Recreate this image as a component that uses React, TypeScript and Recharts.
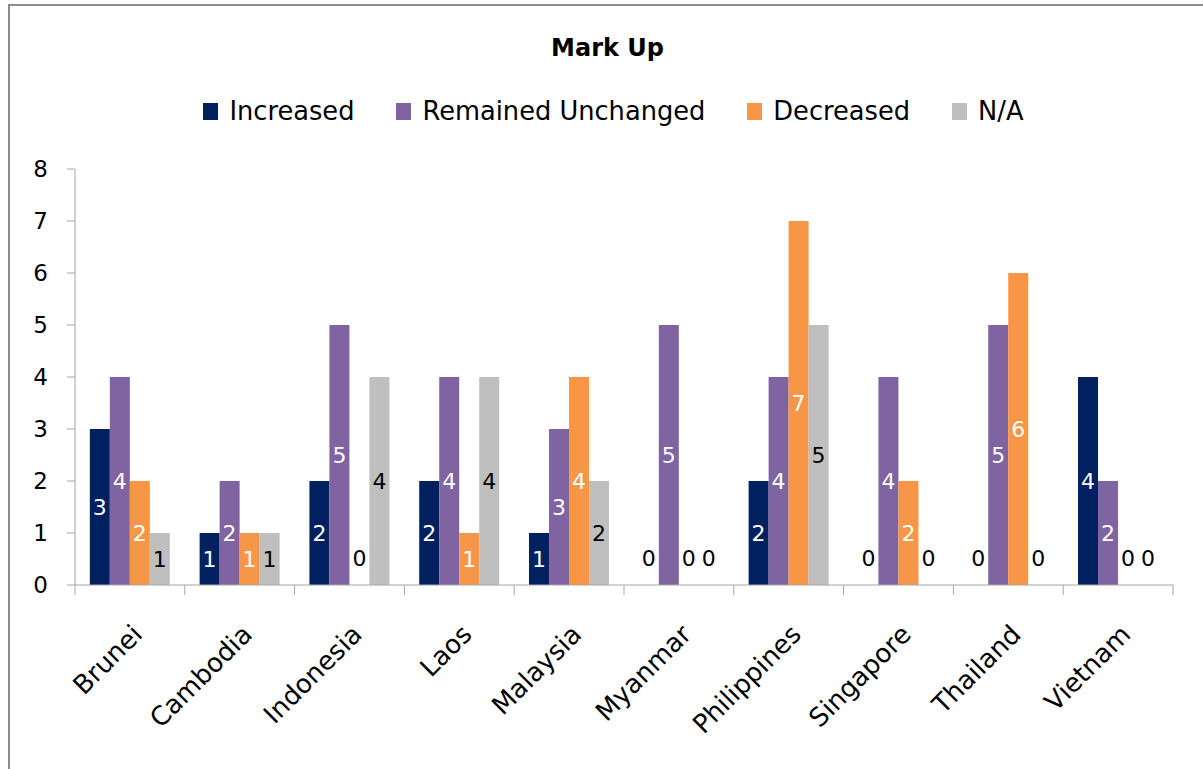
import React from 'react';
import { BarChart, Bar, XAxis, YAxis, Legend } from 'recharts';

const countries = ['Brunei', 'Cambodia', 'Indonesia', 'Laos', 'Malaysia', 'Myanmar', 'Philippines', 'Singapore', 'Thailand', 'Vietnam'];
const increased = [3, 1, 2, 2, 1, 0, 2, 0, 0, 4];
const remainedUnchanged = [4, 2, 5, 4, 3, 5, 4, 4, 5, 2];
const decreased = [2, 1, 0, 1, 4, 0, 7, 2, 6, 0];
const notAvailable = [1, 1, 4, 4, 2, 0, 5, 0, 0, 0];
const yTicks = [0, 1, 2, 3, 4, 5, 6, 7, 8];

const SERIES = [
  { key: 'increased', name: 'Increased', color: '#002060', labelColor: '#ffffff' },
  { key: 'remained', name: 'Remained Unchanged', color: '#8064A2', labelColor: '#ffffff' },
  { key: 'decreased', name: 'Decreased', color: '#F79646', labelColor: '#ffffff' },
  { key: 'na', name: 'N/A', color: '#BFBFBF', labelColor: '#000000' },
];

const data = countries.map((country, i) => ({
  country,
  increased: increased[i],
  remained: remainedUnchanged[i],
  decreased: decreased[i],
  na: notAvailable[i],
}));

const FONT = '"DejaVu Sans", sans-serif';
const AXIS_COLOR = '#A6A6A6';
const CHART_W = 1195;
const CHART_H = 763;
const MARGIN = { top: 163, right: 32, bottom: 0, left: 0 };
const Y_AXIS_W = 65;
const PLOT_W = CHART_W - MARGIN.left - MARGIN.right - Y_AXIS_W;
const BAND = PLOT_W / countries.length;

// x labels rotated 45deg, plus tick marks at the category boundaries (excel style)
const CountryTick = (props: any) => {
  const { x, y, payload, index } = props;
  const last = index === countries.length - 1;
  const ax = x + 14;
  const ay = y + 51;
  return (
    <g>
      <line x1={x - BAND / 2} x2={x - BAND / 2} y1={y} y2={y + 10} stroke={AXIS_COLOR} />
      {last && <line x1={x + BAND / 2} x2={x + BAND / 2} y1={y} y2={y + 10} stroke={AXIS_COLOR} />}
      <text
        x={ax}
        y={ay}
        transform={`rotate(-45, ${ax}, ${ay})`}
        textAnchor="end"
        fontFamily={FONT}
        fontSize={26}
        fill="#000"
      >
        {payload.value}
      </text>
    </g>
  );
};

// bar + its value label; zero values still get a "0" just above the axis
const makeShape = (dataKey: string, color: string, labelColor: string) => (props: any) => {
  const { x, y, width, height, payload } = props;
  const value = payload[dataKey];
  const bottom = y + height;
  const cx = x + width / 2;
  const cy = value === 0 ? bottom - 27 : y + height / 2;
  return (
    <g>
      {value > 0 && <rect x={x} y={y} width={width} height={height} fill={color} />}
      <text
        x={cx}
        y={cy}
        dy={8}
        textAnchor="middle"
        fontFamily={FONT}
        fontSize={22}
        fill={value === 0 ? '#000' : labelColor}
      >
        {value}
      </text>
    </g>
  );
};

const renderLegend = () => (
  <div
    style={{
      display: 'flex',
      justifyContent: 'center',
      paddingLeft: 12,
      fontFamily: FONT,
      fontSize: 25.7,
      lineHeight: '25px',
      color: '#000',
    }}
  >
    {SERIES.map((s, i) => (
      <div key={s.key} style={{ display: 'flex', alignItems: 'center', marginLeft: i === 0 ? 0 : 42 }}>
        <span style={{ display: 'inline-block', width: 15, height: 17, background: s.color, marginRight: 11 }} />
        <span>{s.name}</span>
      </div>
    ))}
  </div>
);

export default function App() {
  return (
    <div
      style={{
        position: 'absolute',
        left: 8,
        top: 4,
        width: 1220,
        height: 800,
        borderLeft: '2px solid #8C8C8C',
        borderTop: '2px solid #8C8C8C',
        background: '#fff',
      }}
    >
      <div
        style={{
          position: 'absolute',
          top: 30,
          left: 0,
          width: CHART_W,
          textAlign: 'center',
          fontFamily: FONT,
          fontWeight: 'bold',
          fontSize: 24,
          lineHeight: '24px',
          color: '#000',
        }}
      >
        Mark Up
      </div>
      <BarChart width={CHART_W} height={CHART_H} data={data} margin={MARGIN} barGap={0} barCategoryGap="13.5%">
        <XAxis
          dataKey="country"
          height={CHART_H - MARGIN.top - 416}
          axisLine={{ stroke: AXIS_COLOR }}
          tickLine={false}
          tickSize={0}
          tickMargin={0}
          interval={0}
          tick={<CountryTick />}
        />
        <YAxis
          width={Y_AXIS_W}
          domain={[0, 8]}
          ticks={yTicks}
          interval={0}
          axisLine={{ stroke: AXIS_COLOR }}
          tickLine={{ stroke: AXIS_COLOR }}
          tickSize={8}
          tickMargin={19}
          tick={{ fontFamily: FONT, fontSize: 23, fill: '#000' }}
        />
        <Legend
          content={renderLegend}
          layout="horizontal"
          verticalAlign="middle"
          align="center"
          wrapperStyle={{ top: 93, left: 0, width: CHART_W }}
        />
        {SERIES.map((s) => (
          <Bar
            key={s.key}
            dataKey={s.key}
            name={s.name}
            fill={s.color}
            minPointSize={1}
            shape={makeShape(s.key, s.color, s.labelColor)}
            isAnimationActive={false}
          />
        ))}
      </BarChart>
    </div>
  );
}
